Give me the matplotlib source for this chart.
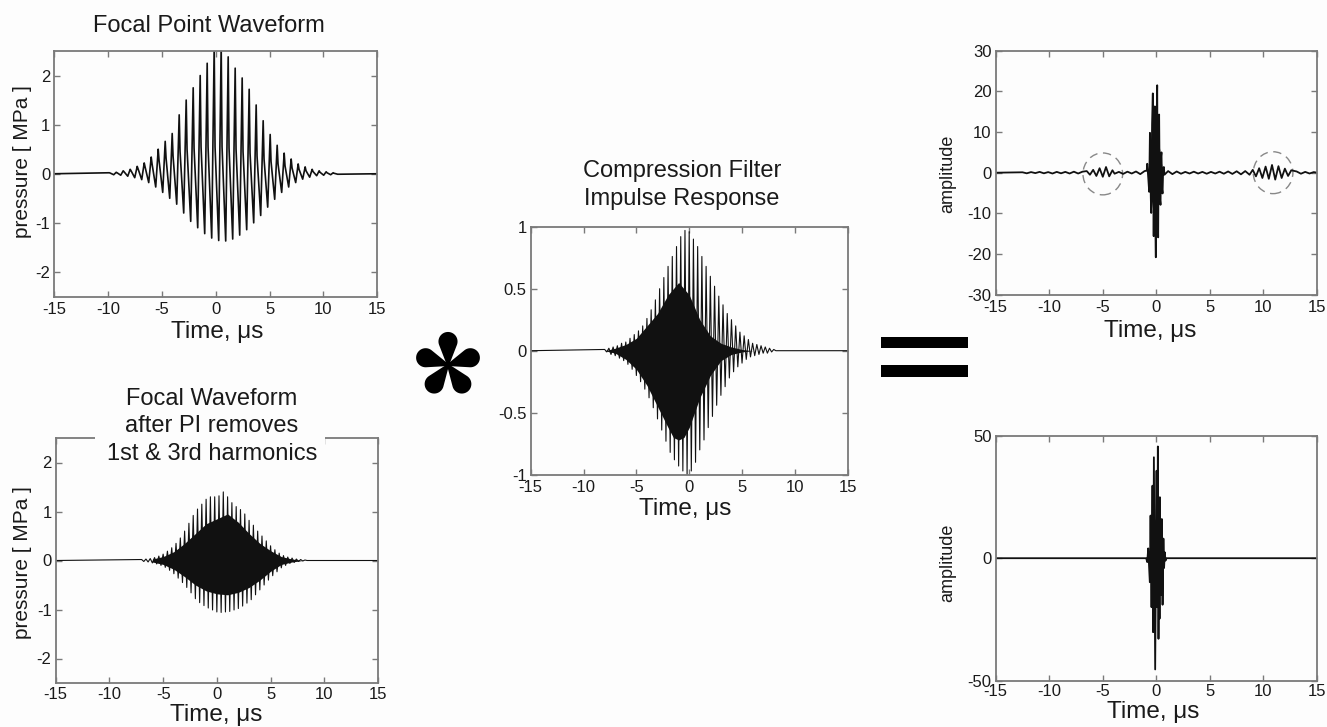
import matplotlib
matplotlib.use("Agg")
import matplotlib.pyplot as plt
from matplotlib.patches import Rectangle, Ellipse, Polygon
import numpy as np

plt.rcParams["font.family"] = ["Liberation Sans", "DejaVu Sans"]
plt.rcParams["axes.unicode_minus"] = False

W, H = 1327, 727
BG = "#fdfdfd"
EDGE = "#7a7a7a"
INK = "#111111"

# ---- data -----------------------------------------------------------------
time_ticks = [-15, -10, -5, 0, 5, 10, 15]

# focal point waveform: per cycle the sharp peak, the knee just after it and the trough (us, MPa)
fp_peak_t = [-9.9, -9.25, -8.6, -7.95, -7.3, -6.65, -6.0, -5.35, -4.7, -4.05, -3.4, -2.75,
             -2.1, -1.45, -0.8, -0.15, 0.5, 1.15, 1.8, 2.45, 3.1, 3.75, 4.4, 5.05, 5.7, 6.35,
             7.0, 7.65, 8.3, 8.95, 9.6, 10.25, 10.9]
fp_peak_p = [0.02, 0.03, 0.06, 0.09, 0.15, 0.22, 0.34, 0.5, 0.66, 0.82, 1.2, 1.5, 1.75, 2.0,
             2.25, 2.6, 2.62, 2.38, 2.15, 1.95, 1.72, 1.4, 1.08, 0.8, 0.58, 0.42, 0.3, 0.2,
             0.14, 0.09, 0.06, 0.04, 0.02]
fp_knee_t = [-9.82, -9.17, -8.52, -7.87, -7.22, -6.57, -5.92, -5.27, -4.62, -3.97, -3.32,
             -2.67, -2.02, -1.37, -0.72, -0.07, 0.58, 1.23, 1.88, 2.53, 3.18, 3.83, 4.48, 5.13,
             5.78, 6.43, 7.08, 7.73, 8.38, 9.03, 9.68, 10.33, 10.98]
fp_knee_p = [0.015, 0.02, 0.04, 0.06, 0.1, 0.14, 0.2, 0.27, 0.32, 0.36, 0.45, 0.5, 0.52, 0.55,
             0.55, 0.55, 0.55, 0.52, 0.5, 0.45, 0.42, 0.36, 0.3, 0.25, 0.2, 0.16, 0.12, 0.09,
             0.06, 0.045, 0.03, 0.02, 0.01]
fp_trough_t = [-9.48, -8.83, -8.18, -7.53, -6.88, -6.23, -5.58, -4.93, -4.28, -3.63, -2.98,
               -2.33, -1.68, -1.03, -0.38, 0.27, 0.92, 1.57, 2.22, 2.87, 3.52, 4.17, 4.82, 5.47,
               6.12, 6.77, 7.42, 8.07, 8.72, 9.37, 10.02, 10.67, 11.32]
fp_trough_p = [-0.02, -0.03, -0.05, -0.08, -0.12, -0.18, -0.27, -0.38, -0.5, -0.62, -0.8, -0.97,
               -1.1, -1.22, -1.31, -1.36, -1.37, -1.33, -1.25, -1.14, -1.0, -0.85, -0.68, -0.52,
               -0.38, -0.27, -0.18, -0.11, -0.07, -0.04, -0.03, -0.02, -0.01]

# focal waveform after pulse inversion: spike tips and the dense black core
pi_up_t = [-7.0, -6.6, -6.2, -5.8, -5.4, -5.0, -4.6, -4.2, -3.8, -3.4, -3.0, -2.6, -2.2, -1.8,
           -1.4, -1.0, -0.6, -0.2, 0.2, 0.6, 1.0, 1.4, 1.8, 2.2, 2.6, 3.0, 3.4, 3.8, 4.2, 4.6,
           5.0, 5.4, 5.8, 6.2, 6.6, 7.0, 7.4, 7.8, 8.2]
pi_up_p = [0.02, 0.03, 0.04, 0.06, 0.09, 0.13, 0.19, 0.26, 0.35, 0.46, 0.6, 0.76, 0.92, 1.05,
           1.15, 1.25, 1.3, 1.3, 1.32, 1.4, 1.3, 1.18, 1.1, 1.04, 0.95, 0.82, 0.72, 0.6, 0.5,
           0.4, 0.3, 0.22, 0.15, 0.1, 0.07, 0.05, 0.03, 0.02, 0.01]
pi_dn_t = [-6.8, -6.4, -6.0, -5.6, -5.2, -4.8, -4.4, -4.0, -3.6, -3.2, -2.8, -2.4, -2.0, -1.6,
           -1.2, -0.8, -0.4, 0.0, 0.4, 0.8, 1.2, 1.6, 2.0, 2.4, 2.8, 3.2, 3.6, 4.0, 4.4, 4.8,
           5.2, 5.6, 6.0, 6.4, 6.8, 7.2, 7.6, 8.0, 8.4]
pi_dn_p = [-0.02, -0.03, -0.05, -0.07, -0.1, -0.14, -0.2, -0.27, -0.36, -0.45, -0.55, -0.66,
           -0.78, -0.86, -0.92, -0.97, -1.01, -1.05, -1.06, -1.05, -1.04, -1.01, -0.98, -0.93,
           -0.87, -0.8, -0.7, -0.6, -0.5, -0.4, -0.31, -0.23, -0.15, -0.1, -0.06, -0.04, -0.02,
           -0.01, 0.0]
pi_core_t = [-6, -5, -4, -3, -2, -1, 0, 1, 2, 3, 4, 5, 6, 7, 8]
pi_core_hi = [0.03, 0.08, 0.18, 0.35, 0.55, 0.75, 0.85, 0.95, 0.78, 0.55, 0.35, 0.2, 0.08, 0.03, 0.0]
pi_core_lo = [-0.03, -0.08, -0.18, -0.33, -0.5, -0.62, -0.68, -0.7, -0.65, -0.55, -0.4, -0.22,
              -0.08, -0.03, 0.0]

# compression filter impulse response
cf_up_t = [-8.0, -7.6, -7.2, -6.8, -6.4, -6.0, -5.6, -5.2, -4.8, -4.4, -4.0, -3.6, -3.2, -2.8,
           -2.4, -2.0, -1.6, -1.2, -0.8, -0.4, 0.0, 0.4, 0.8, 1.2, 1.6, 2.0, 2.4, 2.8, 3.2, 3.6,
           4.0, 4.4, 4.8, 5.2, 5.6, 6.0, 6.4, 6.8, 7.2, 7.6, 8.0]
cf_up_v = [0.01, 0.02, 0.03, 0.04, 0.06, 0.07, 0.1, 0.13, 0.16, 0.2, 0.26, 0.33, 0.41, 0.5,
           0.59, 0.68, 0.76, 0.84, 0.92, 0.97, 0.96, 0.9, 0.84, 0.76, 0.68, 0.6, 0.52, 0.44,
           0.37, 0.3, 0.25, 0.2, 0.15, 0.12, 0.09, 0.06, 0.05, 0.04, 0.03, 0.02, 0.01]
cf_dn_t = [-7.8, -7.4, -7.0, -6.6, -6.2, -5.8, -5.4, -5.0, -4.6, -4.2, -3.8, -3.4, -3.0, -2.6,
           -2.2, -1.8, -1.4, -1.0, -0.6, -0.2, 0.2, 0.6, 1.0, 1.4, 1.8, 2.2, 2.6, 3.0, 3.4, 3.8,
           4.2, 4.6, 5.0, 5.4, 5.8, 6.2, 6.6, 7.0, 7.4, 7.8, 8.2]
cf_dn_v = [-0.01, -0.03, -0.04, -0.06, -0.08, -0.11, -0.15, -0.2, -0.25, -0.31, -0.38, -0.46,
           -0.55, -0.64, -0.73, -0.82, -0.88, -0.93, -0.97, -1.0, -0.97, -0.9, -0.8, -0.72,
           -0.62, -0.53, -0.44, -0.36, -0.29, -0.22, -0.17, -0.13, -0.1, -0.07, -0.05, -0.04,
           -0.03, -0.02, -0.02, -0.01, 0.0]
cf_core_t = [-8, -7, -6, -5, -4, -3, -2, -1.5, -1, -0.5, 0, 0.5, 1, 2, 3, 4, 5, 6]
cf_core_hi = [0, 0.02, 0.05, 0.1, 0.2, 0.3, 0.45, 0.5, 0.55, 0.5, 0.45, 0.35, 0.25, 0.12, 0.06,
              0.03, 0.01, 0]
cf_core_lo = [0, -0.02, -0.07, -0.15, -0.28, -0.45, -0.62, -0.7, -0.72, -0.7, -0.62, -0.5,
              -0.38, -0.2, -0.08, -0.03, -0.01, 0]

# compressed output of the full focal waveform:
# low-level ripple, the two range sidelobes (circled) and the main lobe
cfp_ripple_t = [-12.5, -12.1, -11.7, -11.3, -10.9, -10.5, -10.1, -9.7, -9.3, -8.9, -8.5, -8.1,
                -7.7, -7.3, -6.9, -3.9, -3.5, -3.1, -2.7, -2.3, -1.9, -1.5, -1.1, 1.1, 1.5, 1.9,
                2.3, 2.7, 3.1, 3.5, 3.9, 4.3, 4.7, 5.1, 5.5, 5.9, 6.3, 6.7, 7.1, 7.5, 7.9, 8.3,
                8.7, 13.1, 13.5, 13.9, 14.3, 14.7]
cfp_ripple_v = [0.1, -0.15, 0.15, -0.1, 0.2, -0.15, 0.15, -0.2, 0.2, -0.15, 0.2, -0.2, 0.25,
                -0.2, 0.25, -0.25, 0.2, -0.3, 0.25, -0.2, 0.3, -0.35, 0.4, 0.4, -0.35, 0.3,
                -0.25, 0.2, -0.2, 0.25, -0.2, 0.2, -0.25, 0.2, -0.2, 0.25, -0.25, 0.3, -0.3,
                0.35, -0.4, 0.4, -0.5, 0.3, -0.25, 0.2, -0.2, 0.15]
cfp_side_t = [-6.5, -6.2, -5.9, -5.6, -5.3, -5.0, -4.7, -4.4, -4.1, 9.0, 9.3, 9.6, 9.9, 10.2,
              10.5, 10.8, 11.1, 11.4, 11.7, 12.0, 12.3, 12.6]
cfp_side_v = [0.4, -0.5, 0.7, -0.8, 1.1, -1.0, 1.4, -0.9, 0.6, 0.7, -0.9, 1.1, -1.3, 1.5, -1.5,
              1.9, -1.7, 1.6, -1.3, 1.0, -0.8, 0.6]
cfp_main_t = [-0.9, -0.85, -0.75, -0.67, -0.6, -0.52, -0.48, -0.4, -0.33, -0.25, -0.18, -0.14,
              -0.1, -0.05, 0.02, 0.08, 0.13, 0.17, 0.22, 0.26, 0.32, 0.39, 0.44, 0.48, 0.53,
              0.58, 0.64, 0.7, 0.76]
cfp_main_v = [0.5, 2.2, -1.5, -4.7, 9.8, -6, -9.9, 12, 19.5, -15.6, 10, 16.3, -12, -20.8, 12,
              21.5, -10, -15.9, 9, 14.3, -6, -7.9, 4, 5, -4, -5.1, 1.2, 1.4, -0.5]
cfp_core_t = [-0.65, -0.5, -0.35, -0.2, 0.0, 0.2, 0.4, 0.55]
cfp_core_hi = [1, 6, 9, 10, 10, 8, 4, 1]
cfp_core_lo = [-2, -6, -9, -10, -10, -8, -5, -2]
circle_t = [-5.0, 10.9]
circle_v = [-0.3, 0.0]

# compressed output after pulse inversion
cpi_t = [-0.95, -0.85, -0.76, -0.61, -0.54, -0.45, -0.36, -0.3, -0.23, -0.11, 0.02, 0.08,
         0.14, 0.2, 0.26, 0.3, 0.33, 0.42, 0.51, 0.58, 0.66, 0.72, 0.79, 0.85, 0.95]
cpi_v = [0, -1.6, 4, -9.8, 17.4, -20, 29.6, -30.2, 41.2, -45.4, 35.7, -20, 45.6, -32.9, 20,
         -24.7, 24.9, -15, 16, -19, 8, -4, 2.4, -1, 0]
cpi_core_t = [-0.8, -0.6, -0.45, -0.3, 0.0, 0.2, 0.4, 0.6, 0.8]
cpi_core_hi = [0, 4, 15, 17, 15, 12, 6, 2, 0]
cpi_core_lo = [0, -4, -10, -15, -18, -18, -12, -4, 0]


def px_axes(l, t, r, b):
    return fig.add_axes([l / W, 1 - b / H, (r - l) / W, (b - t) / H])


def style(ax, ylim, yticks, ylabels, xpad=4):
    ax.set_facecolor(BG)
    ax.set_xlim(-15, 15)
    ax.set_ylim(*ylim)
    ax.set_xticks(time_ticks)
    ax.set_xticklabels([str(v) for v in time_ticks])
    ax.set_yticks(yticks)
    ax.set_yticklabels(ylabels)
    ax.tick_params(direction="in", length=4, width=1, color=EDGE, top=True, right=True,
                   labelsize=12, labelcolor="#1a1a1a", pad=3)
    ax.tick_params(axis="x", pad=xpad)
    for s in ax.spines.values():
        s.set_color(EDGE)
        s.set_linewidth(1.3)


def merged(*pairs):
    t = np.concatenate([p[0] for p in pairs])
    v = np.concatenate([p[1] for p in pairs])
    order = np.argsort(t)
    t = np.concatenate([[-15], t[order], [15]])
    v = np.concatenate([[0], v[order], [0]])
    return t, v


def ftext(x, y, s, size, va="baseline", **kw):
    fig.text(x / W, 1 - y / H, s, fontsize=size, ha="center", va=va, color="#1a1a1a", **kw)


fig = plt.figure(figsize=(W / 100, H / 100), dpi=100, facecolor=BG)

# top left
ax1 = px_axes(54.3, 51, 377.3, 296.5)
t, v = merged((fp_peak_t, fp_peak_p), (fp_knee_t, fp_knee_p), (fp_trough_t, fp_trough_p))
ax1.plot(t, v, color=INK, lw=1.2)
style(ax1, (-2.5, 2.5), [-2, -1, 0, 1, 2], ["-2", "-1", "0", "1", "2"])
ftext(208.5, 32.3, "Focal Point Waveform", 17)
ftext(216.7, 338.3, "Time, \u03bcs", 17.5)
ftext(23, 162, "pressure [ MPa ]", 15, va="center", rotation=90)

# bottom left
ax2 = px_axes(55.7, 438, 378, 683)
ax2.fill_between(pi_core_t, pi_core_lo, pi_core_hi, color=INK, lw=0)
t, v = merged((pi_up_t, pi_up_p), (pi_dn_t, pi_dn_p))
ax2.plot(t, v, color=INK, lw=0.8)
style(ax2, (-2.5, 2.5), [-2, -1, 0, 1, 2], ["-2", "-1", "0", "1", "2"], xpad=3)
fig.add_artist(Rectangle((95 / W, 1 - 446 / H), 230 / W, 14 / H, transform=fig.transFigure,
                         facecolor=BG, edgecolor="none", zorder=5))
ftext(212, 405, "Focal Waveform", 17, zorder=6)
ftext(212, 432.5, "after PI removes", 17, zorder=6)
ftext(212, 460, "1st & 3rd harmonics", 17, zorder=6)
ftext(216, 721, "Time, \u03bcs", 17.5)
ftext(23, 563, "pressure [ MPa ]", 15, va="center", rotation=90)

# centre
ax3 = px_axes(530.7, 226.7, 847.7, 474.7)
ax3.fill_between(cf_core_t, cf_core_lo, cf_core_hi, color=INK, lw=0)
t, v = merged((cf_up_t, cf_up_v), (cf_dn_t, cf_dn_v))
ax3.plot(t, v, color=INK, lw=0.8)
style(ax3, (-1, 1), [-1, -0.5, 0, 0.5, 1], ["-1", "-0.5", "0", "0.5", "1"])
ftext(682, 177.3, "Compression Filter", 17)
ftext(682, 205, "Impulse Response", 17)
ftext(685, 515, "Time, \u03bcs", 17.5)

# top right
ax4 = px_axes(995.7, 50.7, 1317, 294.7)
ax4.fill_between(cfp_core_t, cfp_core_lo, cfp_core_hi, color=INK, lw=0)
t, v = merged((cfp_ripple_t, cfp_ripple_v), (cfp_side_t, cfp_side_v), (cfp_main_t, cfp_main_v))
ax4.plot(t, v, color=INK, lw=1.3)
for ct, cv in zip(circle_t, circle_v):
    ax4.add_patch(Ellipse((ct, cv), 3.7, 10.3, fill=False, edgecolor="#888888",
                          lw=1.0, ls=(0, (6, 4))))
style(ax4, (-30, 30), [-30, -20, -10, 0, 10, 20, 30],
      ["-30", "-20", "-10", "0", "10", "20", "30"])
ftext(1150, 336.7, "Time, \u03bcs", 17.5)
ftext(948, 174, "amplitude", 13, va="center", rotation=90)

# bottom right
ax5 = px_axes(995.7, 435.7, 1317, 680.7)
ax5.fill_between(cpi_core_t, cpi_core_lo, cpi_core_hi, color=INK, lw=0)
t, v = merged((cpi_t, cpi_v))
ax5.plot(t, v, color=INK, lw=1.3)
style(ax5, (-50, 50), [-50, 0, 50], ["-50", "0", "50"], xpad=2.5)
ftext(1153, 718, "Time, \u03bcs", 17.5)
ftext(948, 563, "amplitude", 13, va="center", rotation=90)

# convolution sign: five teardrop lobes
axs = fig.add_axes([410 / W, 1 - 403 / H, 76 / W, 76 / H])
axs.set_xlim(-38, 38)
axs.set_ylim(-38, 38)
axs.axis("off")
d, r = 23.5, 8.5
th0 = np.arccos(-r / d)
arc = np.linspace(-th0, th0, 40)
lobe = np.vstack([[0, 0], np.column_stack([d + r * np.cos(arc), r * np.sin(arc)])])
for k in range(5):
    a = np.pi / 2 + k * 2 * np.pi / 5
    rot = np.array([[np.cos(a), -np.sin(a)], [np.sin(a), np.cos(a)]])
    axs.add_patch(Polygon(lobe @ rot.T, closed=True, facecolor="black", edgecolor="black", lw=1.5))

# equals sign
for top in (337, 365):
    fig.add_artist(Rectangle((881 / W, 1 - (top + 11.5) / H), 87 / W, 11.5 / H,
                             transform=fig.transFigure, facecolor="black", edgecolor="none"))

fig.savefig("out.png", dpi=100, facecolor=BG)
